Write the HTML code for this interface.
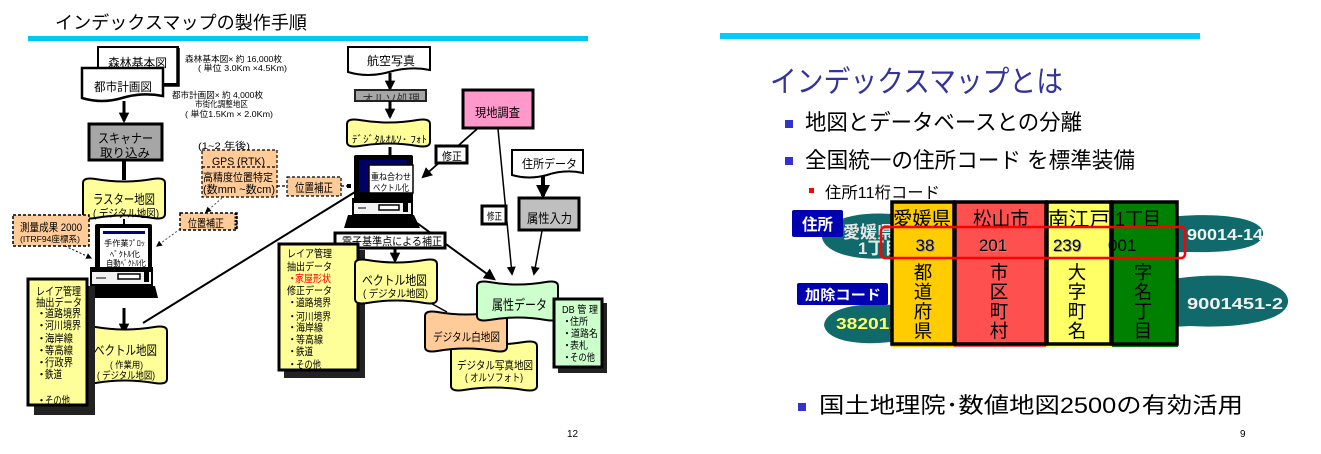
<!DOCTYPE html>
<html><head><meta charset="utf-8">
<style>
html,body{margin:0;padding:0;background:#fff;}
svg{display:block;font-family:"Liberation Sans","Noto Sans CJK JP",sans-serif;}
</style></head>
<body>
<svg width="1321" height="454" viewBox="0 0 1321 454" xmlns="http://www.w3.org/2000/svg">
<defs>
<marker id="ah" viewBox="0 0 10 10" refX="8" refY="5" markerWidth="3.5" markerHeight="3.5" orient="auto"><path d="M0,0 L10,5 L0,10 z" fill="#000"/></marker>
<marker id="ah2" viewBox="0 0 10 10" refX="8" refY="5" markerWidth="6" markerHeight="6" orient="auto"><path d="M0,0 L10,5 L0,10 z" fill="#000"/></marker>
<clipPath id="orthoClip"><rect x="356" y="91" width="69" height="9"/></clipPath>
</defs>

<!-- ============ LEFT SLIDE ============ -->
<text x="55" y="29" font-size="18" textLength="252" lengthAdjust="spacingAndGlyphs">インデックスマップの製作手順</text>
<rect x="28" y="36" width="560" height="5" fill="#00c8f5"/>

<g font-size="8.5" fill="#000">
<text x="185" y="62" textLength="97" lengthAdjust="spacingAndGlyphs">森林基本図× 約 16,000枚</text>
<text x="198" y="71" textLength="89" lengthAdjust="spacingAndGlyphs">( 単位 3.0Km ×4.5Km)</text>
<text x="172" y="98" textLength="91" lengthAdjust="spacingAndGlyphs">都市計画図× 約 4,000枚</text>
<text x="195" y="107" textLength="53" lengthAdjust="spacingAndGlyphs">市街化調整地区</text>
<text x="185" y="117" textLength="88" lengthAdjust="spacingAndGlyphs">( 単位1.5Km × 2.0Km)</text>
</g>

<rect x="98" y="47" width="80" height="37" fill="#fff" stroke="#000" stroke-width="2"/>
<path d="M178,48 L178,85 L99,85" fill="none" stroke="#000" stroke-width="3.5"/>
<text x="108" y="67" font-size="12" textLength="59" lengthAdjust="spacingAndGlyphs">森林基本図</text>
<path d="M82,68 L163,68 L163,96 Q142,92 122,98 Q102,104 82,98 Z" fill="#fff" stroke="#000" stroke-width="2.5"/>
<text x="94" y="91" font-size="12" textLength="58" lengthAdjust="spacingAndGlyphs">都市計画図</text>

<line x1="124" y1="101" x2="124" y2="121" stroke="#000" stroke-width="3" marker-end="url(#ah)"/>

<rect x="89" y="124" width="73" height="36" fill="#a6a6a6" stroke="#000" stroke-width="3"/>
<text x="98" y="143" font-size="13" textLength="55" lengthAdjust="spacingAndGlyphs">スキャナー</text>
<text x="100" y="157" font-size="12" textLength="50" lengthAdjust="spacingAndGlyphs">取り込み</text>
<line x1="124" y1="160" x2="124" y2="180" stroke="#000" stroke-width="4"/>

<path d="M83,183 Q83,177 95.3,179 Q124,184 152.7,179 Q165,177 165,183 L165,214 Q165,220 152.7,218 Q124,213 95.3,218 Q83,220 83,214 Z" fill="#ffff99" stroke="#000" stroke-width="2"/>
<text x="93" y="204" font-size="13" textLength="62" lengthAdjust="spacingAndGlyphs">ラスター地図</text>
<text x="93" y="217" font-size="11" textLength="66" lengthAdjust="spacingAndGlyphs">( デジタル地図)</text>
<line x1="124" y1="219" x2="124" y2="225" stroke="#000" stroke-width="2"/>

<text x="198" y="149" font-size="9.5" textLength="52" lengthAdjust="spacingAndGlyphs">(1~2 年後)</text>
<rect x="202" y="150" width="75" height="47" fill="#ffcc99" stroke="#000" stroke-width="1.2" stroke-dasharray="3,2"/>
<line x1="202" y1="167" x2="277" y2="167" stroke="#000" stroke-width="1.2" stroke-dasharray="3,2"/>
<text x="212" y="165" font-size="11" textLength="53" lengthAdjust="spacingAndGlyphs">GPS (RTK)</text>
<text x="203" y="181" font-size="11" textLength="70" lengthAdjust="spacingAndGlyphs">高精度位置特定</text>
<text x="203" y="193" font-size="11" textLength="72" lengthAdjust="spacingAndGlyphs">(数mm ~数cm)</text>

<line x1="277" y1="186" x2="287" y2="186" stroke="#000" stroke-width="1.2" stroke-dasharray="3,2"/>
<rect x="287" y="177" width="54" height="19" fill="#ffcc99" stroke="#000" stroke-width="1.2" stroke-dasharray="3,2"/>
<text x="295" y="192" font-size="12" textLength="38" lengthAdjust="spacingAndGlyphs">位置補正</text>
<line x1="341" y1="186" x2="350" y2="186" stroke="#000" stroke-width="1.2" stroke-dasharray="3,2"/>
<rect x="347" y="184" width="4" height="4" fill="#000"/>

<line x1="222" y1="198" x2="206" y2="212" stroke="#555" stroke-width="1" stroke-dasharray="2,2" marker-end="url(#ah2)"/>
<rect x="180" y="213" width="57" height="17" fill="#ffcc99" stroke="#000" stroke-width="1.5" stroke-dasharray="3,2"/>
<line x1="236" y1="213" x2="236" y2="230" stroke="#000" stroke-width="3" stroke-dasharray="2,1.5"/>
<text x="188" y="227" font-size="11" textLength="36" lengthAdjust="spacingAndGlyphs">位置補正</text>
<line x1="180" y1="229" x2="157" y2="246" stroke="#555" stroke-width="1" stroke-dasharray="2,2" marker-end="url(#ah2)"/>

<rect x="13" y="215" width="76" height="31" fill="#ffcc99" stroke="#000" stroke-width="1.5" stroke-dasharray="3,2"/>
<text x="20" y="231" font-size="11" textLength="62" lengthAdjust="spacingAndGlyphs">測量成果 2000</text>
<text x="20" y="242" font-size="8.5" textLength="60" lengthAdjust="spacingAndGlyphs">(ITRF94座標系)</text>
<line x1="65" y1="246" x2="91" y2="258" stroke="#000" stroke-width="1" stroke-dasharray="2,2" marker-end="url(#ah2)"/>

<rect x="95" y="224" width="57" height="44" fill="#000" rx="2"/>
<rect x="100" y="228" width="48" height="39" fill="#fff"/>
<rect x="103" y="231" width="42" height="3" fill="#000080"/>
<text x="104" y="246" font-size="8" textLength="41" lengthAdjust="spacingAndGlyphs">手作業ﾌﾟﾛｯ</text>
<text x="110" y="257" font-size="8" textLength="30" lengthAdjust="spacingAndGlyphs">ﾍﾞｸﾄﾙ化</text>
<text x="106" y="266" font-size="8" textLength="40" lengthAdjust="spacingAndGlyphs">自動ﾍﾞｸﾄﾙ化</text>
<rect x="91" y="268" width="61" height="17" fill="#f2f2f2" stroke="#000" stroke-width="2"/>
<rect x="91" y="268" width="61" height="4" fill="#000"/>
<rect x="118" y="274" width="22" height="5" fill="#fff" stroke="#000" stroke-width="1.5"/>
<line x1="96" y1="278" x2="106" y2="278" stroke="#000" stroke-width="1"/>
<rect x="144" y="272" width="5" height="10" fill="#000"/>
<path d="M88,286 L155,286 L158,298 L85,298 Z" fill="#000"/>
<line x1="124" y1="308" x2="124" y2="332" stroke="#000" stroke-width="3" marker-end="url(#ah)"/>

<path d="M83,331 Q83,325 95.6,327 Q125,332 154.4,327 Q167,325 167,331 L167,379 Q167,385 154.4,383 Q125,378 95.6,383 Q83,385 83,379 Z" fill="#ffff99" stroke="#000" stroke-width="2"/>
<text x="94" y="355" font-size="13" textLength="63" lengthAdjust="spacingAndGlyphs">ベクトル地図</text>
<text x="110" y="368" font-size="9" textLength="33" lengthAdjust="spacingAndGlyphs">( 作業用)</text>
<text x="97" y="379" font-size="10" textLength="58" lengthAdjust="spacingAndGlyphs">( デジタル地図)</text>

<rect x="34" y="286" width="61" height="129" fill="#222"/>
<rect x="28" y="279" width="59" height="126" fill="#ffff99" stroke="#000" stroke-width="3"/>
<g font-size="11">
<text x="36" y="295" textLength="45" lengthAdjust="spacingAndGlyphs">レイア管理</text>
<text x="36" y="306" textLength="46" lengthAdjust="spacingAndGlyphs">抽出データ</text>
<text x="36" y="317">・</text><text x="45" y="317" textLength="36" lengthAdjust="spacingAndGlyphs">道路境界</text>
<text x="36" y="329">・</text><text x="45" y="329" textLength="36" lengthAdjust="spacingAndGlyphs">河川境界</text>
<text x="36" y="342">・</text><text x="45" y="342" textLength="28" lengthAdjust="spacingAndGlyphs">海岸線</text>
<text x="36" y="354">・</text><text x="45" y="354" textLength="28" lengthAdjust="spacingAndGlyphs">等高線</text>
<text x="36" y="366">・</text><text x="45" y="366" textLength="28" lengthAdjust="spacingAndGlyphs">行政界</text>
<text x="36" y="378">・</text><text x="45" y="378" textLength="17" lengthAdjust="spacingAndGlyphs">鉄道</text>
<text x="36" y="404">・</text><text x="45" y="404" textLength="25" lengthAdjust="spacingAndGlyphs">その他</text>
</g>

<line x1="143" y1="323" x2="355" y2="192" stroke="#000" stroke-width="2"/>

<path d="M348,47 L430,47 L430,70 Q410,66 389,72 Q368,78 348,72 Z" fill="#fff" stroke="#000" stroke-width="2"/>
<text x="367" y="65" font-size="12" textLength="48" lengthAdjust="spacingAndGlyphs">航空写真</text>
<line x1="390" y1="73" x2="390" y2="89" stroke="#000" stroke-width="3" marker-end="url(#ah)"/>
<rect x="355" y="90" width="71" height="11" fill="#a6a6a6" stroke="#222" stroke-width="2"/>
<text x="362" y="104" font-size="13" textLength="58" lengthAdjust="spacingAndGlyphs" fill="#333" clip-path="url(#orthoClip)">オルソ処理</text>
<line x1="390" y1="101" x2="390" y2="117" stroke="#000" stroke-width="3" marker-end="url(#ah)"/>
<path d="M347,124 Q347,118 359.5,120 Q388.5,125 417.5,120 Q430,118 430,124 L430,142 Q430,148 417.5,146 Q388.5,141 359.5,146 Q347,148 347,142 Z" fill="#ffff99" stroke="#000" stroke-width="2"/>
<text x="352" y="143" font-size="10" textLength="75" lengthAdjust="spacingAndGlyphs">ﾃﾞｼﾞﾀﾙｵﾙｿ･ ﾌｫﾄ</text>
<line x1="390" y1="147" x2="390" y2="156" stroke="#000" stroke-width="3"/>

<rect x="354" y="155" width="59" height="45" fill="#000" rx="2"/>
<rect x="359" y="160" width="48" height="32" fill="#00006a"/>
<rect x="369" y="165" width="44" height="28" fill="#fff" stroke="#000" stroke-width="1.5"/>
<text x="371" y="180" font-size="9" textLength="40" lengthAdjust="spacingAndGlyphs">重ね合わせ</text>
<text x="373" y="191" font-size="9" textLength="36" lengthAdjust="spacingAndGlyphs">ベクトル化</text>
<rect x="353" y="199" width="59" height="16" fill="#f2f2f2" stroke="#000" stroke-width="2"/>
<rect x="353" y="199" width="59" height="4" fill="#000"/>
<rect x="379" y="205" width="20" height="5" fill="#fff" stroke="#000" stroke-width="1.5"/>
<line x1="358" y1="208" x2="366" y2="208" stroke="#000" stroke-width="1"/>
<rect x="403" y="203" width="5" height="9" fill="#000"/>
<path d="M348,215 L414,215 L420,228 L344,228 Z" fill="#000"/>

<rect x="463" y="90" width="70" height="38" fill="#ff99cc" stroke="#000" stroke-width="3"/>
<text x="475" y="117" font-size="12.5" textLength="45" lengthAdjust="spacingAndGlyphs">現地調査</text>
<line x1="477" y1="129" x2="423" y2="177" stroke="#000" stroke-width="1.8" marker-end="url(#ah2)"/>
<rect x="436" y="146" width="31" height="17" fill="#fff" stroke="#000" stroke-width="3"/>
<text x="442" y="160" font-size="11" textLength="20" lengthAdjust="spacingAndGlyphs">修正</text>
<line x1="498" y1="129" x2="512" y2="274" stroke="#000" stroke-width="1.5" marker-end="url(#ah2)"/>
<rect x="482" y="206" width="24" height="18" fill="#fff" stroke="#000" stroke-width="3"/>
<text x="487" y="220" font-size="10" textLength="15" lengthAdjust="spacingAndGlyphs">修正</text>

<path d="M512,150 L583,150 L583,173 Q565,169 547,175 Q529,180 512,175 Z" fill="#fff" stroke="#000" stroke-width="2"/>
<text x="522" y="168" font-size="12" textLength="55" lengthAdjust="spacingAndGlyphs">住所データ</text>
<line x1="543" y1="176" x2="543" y2="196" stroke="#000" stroke-width="4" marker-end="url(#ah)"/>
<rect x="519" y="198" width="60" height="32" fill="#bfbfbf" stroke="#000" stroke-width="3"/>
<text x="527" y="223" font-size="13" textLength="45" lengthAdjust="spacingAndGlyphs">属性入力</text>
<line x1="542" y1="231" x2="534" y2="274" stroke="#000" stroke-width="1.5" marker-end="url(#ah2)"/>

<line x1="417" y1="223" x2="494" y2="279" stroke="#000" stroke-width="2" marker-end="url(#ah2)"/>

<rect x="335" y="233" width="110" height="15" fill="#fff" stroke="#000" stroke-width="3"/>
<text x="342" y="245" font-size="11" textLength="100" lengthAdjust="spacingAndGlyphs">電子基準点による補正</text>
<line x1="395" y1="248" x2="395" y2="261" stroke="#000" stroke-width="3" marker-end="url(#ah)"/>

<rect x="284" y="250" width="81" height="128" fill="#222"/>
<rect x="279" y="244" width="79" height="126" fill="#ffff99" stroke="#000" stroke-width="3"/>
<g font-size="10.5">
<text x="287" y="257" textLength="45" lengthAdjust="spacingAndGlyphs">レイア管理</text>
<text x="287" y="270" textLength="45" lengthAdjust="spacingAndGlyphs">抽出データ</text>
<text x="287" y="282" fill="#ff0000">・</text><text x="295" y="282" fill="#ff0000" textLength="36" lengthAdjust="spacingAndGlyphs">家屋形状</text>
<text x="287" y="294" textLength="45" lengthAdjust="spacingAndGlyphs">修正データ</text>
<text x="287" y="306">・</text><text x="296" y="306" textLength="35" lengthAdjust="spacingAndGlyphs">道路境界</text>
<text x="287" y="320">・</text><text x="296" y="320" textLength="35" lengthAdjust="spacingAndGlyphs">河川境界</text>
<text x="287" y="331">・</text><text x="296" y="331" textLength="27" lengthAdjust="spacingAndGlyphs">海岸線</text>
<text x="287" y="343">・</text><text x="296" y="343" textLength="27" lengthAdjust="spacingAndGlyphs">等高線</text>
<text x="287" y="355">・</text><text x="296" y="355" textLength="17" lengthAdjust="spacingAndGlyphs">鉄道</text>
<text x="287" y="368">・</text><text x="296" y="368" textLength="25" lengthAdjust="spacingAndGlyphs">その他</text>
</g>

<line x1="425" y1="300" x2="447" y2="312" stroke="#000" stroke-width="1.5"/>
<path d="M355,264 Q355,258 367.3,260 Q396,265 424.7,260 Q437,258 437,264 L437,299 Q437,305 424.7,303 Q396,298 367.3,303 Q355,305 355,299 Z" fill="#ffff99" stroke="#000" stroke-width="2"/>
<text x="362" y="285" font-size="13" textLength="65" lengthAdjust="spacingAndGlyphs">ベクトル地図</text>
<text x="363" y="297" font-size="10.5" textLength="65" lengthAdjust="spacingAndGlyphs">( デジタル地図)</text>

<path d="M451,346 Q451,340 463.9,342 Q494,347 524.1,342 Q537,340 537,346 L537,386 Q537,392 524.1,390 Q494,385 463.9,390 Q451,392 451,386 Z" fill="#ffff99" stroke="#000" stroke-width="2"/>
<text x="457" y="369" font-size="11" textLength="76" lengthAdjust="spacingAndGlyphs">デジタル写真地図</text>
<text x="465" y="381" font-size="10.5" textLength="58" lengthAdjust="spacingAndGlyphs">( オルソフォト)</text>

<path d="M425,316 Q425,310 437.3,312 Q466,317 494.7,312 Q507,310 507,316 L507,347 Q507,353 494.7,351 Q466,346 437.3,351 Q425,353 425,347 Z" fill="#ffcc99" stroke="#000" stroke-width="2"/>
<text x="433" y="341" font-size="11.5" textLength="67" lengthAdjust="spacingAndGlyphs">デジタル白地図</text>

<path d="M477,286 Q477,280 489.2,282 Q517.5,287 545.9,282 Q558,280 558,286 L558,316 Q558,322 545.9,320 Q517.5,315 489.2,320 Q477,322 477,316 Z" fill="#ccffcc" stroke="#000" stroke-width="2"/>
<text x="492" y="310" font-size="14" textLength="55" lengthAdjust="spacingAndGlyphs">属性データ</text>

<rect x="558" y="303" width="49" height="70" fill="#222"/>
<rect x="554" y="299" width="48" height="68" fill="#ccffcc" stroke="#000" stroke-width="3"/>
<g font-size="10">
<text x="562" y="313" textLength="36" lengthAdjust="spacingAndGlyphs">DB 管 理</text>
<text x="562" y="325">・</text><text x="570" y="325" textLength="18" lengthAdjust="spacingAndGlyphs">住所</text>
<text x="562" y="337">・</text><text x="571" y="337" textLength="27" lengthAdjust="spacingAndGlyphs">道路名</text>
<text x="562" y="349">・</text><text x="570" y="349" textLength="18" lengthAdjust="spacingAndGlyphs">表札</text>
<text x="562" y="361">・</text><text x="570" y="361" textLength="25" lengthAdjust="spacingAndGlyphs">その他</text>
</g>

<text x="567" y="437" font-size="10">12</text>

<!-- ============ RIGHT SLIDE ============ -->
<rect x="720" y="33" width="480" height="6" fill="#00ccff"/>
<text x="770" y="92" font-size="30" fill="#333399" textLength="293" lengthAdjust="spacingAndGlyphs">インデックスマップとは</text>

<rect x="785" y="120" width="8" height="8" fill="#3333cc"/>
<text x="805" y="130" font-size="22" textLength="277" lengthAdjust="spacingAndGlyphs">地図とデータベースとの分離</text>
<rect x="785" y="157" width="8" height="8" fill="#3333cc"/>
<text x="805" y="168" font-size="22" textLength="330" lengthAdjust="spacingAndGlyphs">全国統一の住所コード を標準装備</text>
<rect x="809" y="188" width="5" height="5" fill="#ff0000"/>
<text x="825" y="198" font-size="16" textLength="115" lengthAdjust="spacingAndGlyphs">住所11桁コード</text>

<path d="M822,238 C824,222 850,211 892,214 L1180,216 C1222,213 1260,218 1263,232 C1265,248 1232,253 1190,252 L890,258 C858,261 826,254 822,238 Z" fill="#10696a"/>
<path d="M824,325 C826,310 852,302 892,305 L1180,278 C1232,271 1286,280 1288,300 C1290,320 1242,329 1190,326 L890,342 C856,346 826,340 824,325 Z" fill="#10696a"/>
<g font-weight="bold" font-size="17">
<text x="843" y="238" fill="#e6e6e6">愛媛県松</text>
<text x="858" y="254" fill="#e6e6e6">1丁目</text>
<text x="1187" y="240" fill="#f2f2f2" font-size="16" textLength="76" lengthAdjust="spacingAndGlyphs">90014-14</text>
<text x="1187" y="309" fill="#f2f2f2" font-size="16" textLength="96" lengthAdjust="spacingAndGlyphs">9001451-2</text>
<text x="836" y="329" fill="#ffff66" font-size="16" textLength="64" lengthAdjust="spacingAndGlyphs">382012</text>
</g>
<rect x="792" y="210" width="51" height="27" fill="#0000b0" rx="2"/>
<text x="802" y="230" font-size="16" font-weight="bold" fill="#fff" textLength="31" lengthAdjust="spacingAndGlyphs">住所</text>
<rect x="797" y="283" width="91" height="22" fill="#0000b0" rx="2"/>
<text x="805" y="300" font-size="14" font-weight="bold" fill="#fff" textLength="76" lengthAdjust="spacingAndGlyphs">加除コード</text>

<rect x="891" y="201" width="63" height="146" fill="#ffcc00"/>
<rect x="954" y="201" width="92" height="146" fill="#ff5050"/>
<rect x="1046" y="201" width="66" height="146" fill="#ffff66"/>
<rect x="1112" y="201" width="66" height="146" fill="#008000"/>
<g fill="none" stroke="#000" stroke-width="3.5">
<rect x="892" y="202" width="62" height="142"/>
<rect x="955" y="202" width="91" height="142"/>
<rect x="1047" y="202" width="64" height="142"/>
<rect x="1112" y="202" width="65" height="142"/>
</g>
<g font-size="20">
<text x="922" y="226" text-anchor="middle" textLength="58" lengthAdjust="spacingAndGlyphs">愛媛県</text>
<text x="1001" y="226" text-anchor="middle" textLength="56" lengthAdjust="spacingAndGlyphs">松山市</text>
<text x="1079" y="226" text-anchor="middle" textLength="62" lengthAdjust="spacingAndGlyphs">南江戸</text>
<text x="1138" y="226" text-anchor="middle" textLength="46" lengthAdjust="spacingAndGlyphs">1丁目</text>
</g>
<g font-size="17">
<text x="926" y="252" text-anchor="middle" fill="#999">38</text>
<text x="925" y="251" text-anchor="middle">38</text>
<text x="994" y="252" text-anchor="middle" fill="#999">201</text>
<text x="993" y="251" text-anchor="middle">201</text>
<text x="1068" y="252" text-anchor="middle" fill="#999">239</text>
<text x="1067" y="251" text-anchor="middle">239</text>
<text x="1108" y="251">001</text>
</g>
<g font-size="18.5" text-anchor="middle">
<text x="923" y="279">都</text><text x="923" y="298.5">道</text><text x="923" y="318">府</text><text x="923" y="337.5">県</text>
<text x="999" y="279">市</text><text x="999" y="298.5">区</text><text x="999" y="318">町</text><text x="999" y="337.5">村</text>
<text x="1077" y="279">大</text><text x="1077" y="298.5">字</text><text x="1077" y="318">町</text><text x="1077" y="337.5">名</text>
<text x="1143" y="279">字</text><text x="1143" y="298.5">名</text><text x="1143" y="318">丁</text><text x="1143" y="337.5">目</text>
</g>
<rect x="881" y="227" width="304" height="31" rx="4" fill="none" stroke="#ff0000" stroke-width="2.5"/>

<rect x="798" y="403" width="8" height="8" fill="#3333cc"/>
<text x="819" y="413" font-size="22" textLength="424" lengthAdjust="spacingAndGlyphs">国土地理院･数値地図2500の有効活用</text>
<text x="1240" y="437" font-size="10">9</text>
</svg>
</body></html>
